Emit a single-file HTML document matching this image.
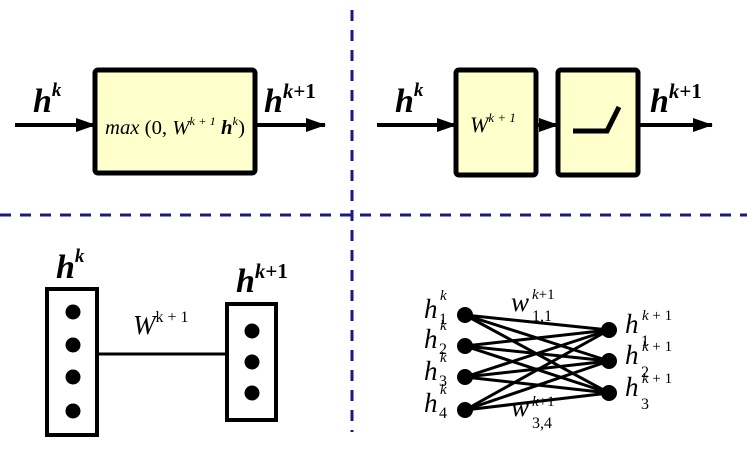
<!DOCTYPE html>
<html><head><meta charset="utf-8"><style>
html,body{margin:0;padding:0;background:#fff;}
svg{display:block}
.b{font-family:"Liberation Serif",serif;font-weight:bold;font-style:italic;fill:#000}
.i{font-family:"Liberation Serif",serif;font-style:italic;fill:#000}
.n{font-family:"Liberation Serif",serif;font-style:normal;fill:#000}
</style></head><body>
<svg width="747" height="467" viewBox="0 0 747 467">
<defs>
<marker id="ah2" markerWidth="20" markerHeight="14" refX="19" refY="7" orient="auto" markerUnits="userSpaceOnUse"><path d="M0,0L20,7L0,14z" fill="#000"/></marker></defs>
<g stroke="#1a1a80" stroke-width="3" stroke-dasharray="11,9">
<line x1="352" y1="10" x2="352" y2="432"/>
<line x1="0" y1="215" x2="747" y2="215"/>
</g>
<g>
<line x1="15" y1="125" x2="95" y2="125" stroke="#000" stroke-width="4" marker-end="url(#ah2)"/>
<rect x="95" y="70" width="160" height="103" rx="3" fill="#ffffcc" stroke="#000" stroke-width="5"/>
<line x1="257" y1="125" x2="325" y2="125" stroke="#000" stroke-width="4" marker-end="url(#ah2)"/>
<text class="b" x="33" y="112" font-size="34">h<tspan font-size="19" dy="-16">k</tspan></text>
<text class="b" x="264" y="112" font-size="34">h<tspan font-size="21" dy="-14">k</tspan><tspan font-style="normal" font-size="21">+1</tspan></text>
<text class="i" x="105" y="134" font-size="20" textLength="140" lengthAdjust="spacingAndGlyphs">max <tspan font-style="normal">(0, </tspan>W<tspan font-size="12" dy="-9">k + 1</tspan><tspan dy="9" font-weight="bold"> h</tspan><tspan font-size="12" dy="-9">k</tspan><tspan dy="9" font-style="normal">)</tspan></text>
</g>
<g>
<line x1="377" y1="125" x2="456" y2="125" stroke="#000" stroke-width="4" marker-end="url(#ah2)"/>
<rect x="456" y="70" width="80" height="105" rx="3" fill="#ffffcc" stroke="#000" stroke-width="5"/>
<line x1="537" y1="125" x2="558" y2="125" stroke="#000" stroke-width="4" marker-end="url(#ah2)"/>
<rect x="558" y="70" width="80" height="105" rx="3" fill="#ffffcc" stroke="#000" stroke-width="5"/>
<polyline points="573,131 607,131 619,107" fill="none" stroke="#000" stroke-width="5"/>
<line x1="640" y1="125" x2="712" y2="125" stroke="#000" stroke-width="4" marker-end="url(#ah2)"/>
<text class="b" x="395" y="112" font-size="34">h<tspan font-size="19" dy="-16">k</tspan></text>
<text class="b" x="650" y="112" font-size="34">h<tspan font-size="21" dy="-14">k</tspan><tspan font-style="normal" font-size="21">+1</tspan></text>
<text class="i" x="470" y="132" font-size="22">W<tspan font-size="13" dy="-10">k + 1</tspan></text>
</g>
<g>
<rect x="47" y="289" width="50" height="146" fill="#fff" stroke="#000" stroke-width="4"/>
<circle cx="73" cy="312" r="7.5"/><circle cx="73" cy="345" r="7.5"/><circle cx="73" cy="377" r="7.5"/><circle cx="73" cy="411" r="7.5"/>
<rect x="227" y="304" width="49" height="116" fill="#fff" stroke="#000" stroke-width="4"/>
<circle cx="252" cy="331" r="7.5"/><circle cx="252" cy="362" r="7.5"/><circle cx="252" cy="393" r="7.5"/>
<line x1="97" y1="354" x2="229" y2="354" stroke="#000" stroke-width="3"/>
<text class="b" x="56" y="278" font-size="34">h<tspan font-size="19" dy="-16">k</tspan></text>
<text class="b" x="236" y="292" font-size="34">h<tspan font-size="21" dy="-14">k</tspan><tspan font-style="normal" font-size="21">+1</tspan></text>
<text class="i" x="133" y="334" font-size="27">W<tspan font-size="16" dy="-12" font-style="normal">k + 1</tspan></text>
</g>
<g stroke="#000" stroke-width="3">
<g id="edges"></g>
<circle cx="465" cy="315" r="8" stroke="none"/><circle cx="465" cy="346" r="8" stroke="none"/><circle cx="465" cy="377" r="8" stroke="none"/><circle cx="465" cy="410" r="8" stroke="none"/>
<circle cx="609" cy="330" r="8" stroke="none"/><circle cx="609" cy="361" r="8" stroke="none"/><circle cx="609" cy="393" r="8" stroke="none"/>
</g>
<g>
<text class="i" x="424" y="318" font-size="27">h</text><text class="i" x="440" y="300" font-size="15">k</text><text class="n" x="439" y="324" font-size="16">1</text>
<text class="i" x="424" y="348" font-size="27">h</text><text class="i" x="440" y="330" font-size="15">k</text><text class="n" x="439" y="354" font-size="16">2</text>
<text class="i" x="424" y="380" font-size="27">h</text><text class="i" x="440" y="362" font-size="15">k</text><text class="n" x="439" y="386" font-size="16">3</text>
<text class="i" x="424" y="412" font-size="27">h</text><text class="i" x="440" y="394" font-size="15">k</text><text class="n" x="439" y="418" font-size="16">4</text>
<text class="i" x="625" y="333" font-size="27">h</text><text class="n" x="642" y="320" font-size="15"><tspan font-style="italic">k</tspan> + 1</text><text class="n" x="641" y="346" font-size="16">1</text>
<text class="i" x="625" y="364" font-size="27">h</text><text class="n" x="642" y="351" font-size="15"><tspan font-style="italic">k</tspan> + 1</text><text class="n" x="641" y="377" font-size="16">2</text>
<text class="i" x="625" y="396" font-size="27">h</text><text class="n" x="642" y="383" font-size="15"><tspan font-style="italic">k</tspan> + 1</text><text class="n" x="641" y="409" font-size="16">3</text>
<text class="i" x="511" y="311" font-size="27">w</text><text class="n" x="532" y="299" font-size="15"><tspan font-style="italic">k</tspan>+1</text><text class="n" x="532" y="321" font-size="16">1,1</text>
<text class="i" x="511" y="416" font-size="27">w</text><text class="n" x="532" y="406" font-size="15"><tspan font-style="italic">k</tspan>+1</text><text class="n" x="532" y="428" font-size="16">3,4</text>
</g>
<script>
const L=[[465,315],[465,346],[465,377],[465,410]];
const R=[[609,330],[609,361],[609,393]];
const g=document.getElementById('edges');
for(const a of L){for(const b of R){
const l=document.createElementNS('http://www.w3.org/2000/svg','line');
l.setAttribute('x1',a[0]);l.setAttribute('y1',a[1]);l.setAttribute('x2',b[0]);l.setAttribute('y2',b[1]);


g.appendChild(l);}}
</script>
</svg>
</body></html>
